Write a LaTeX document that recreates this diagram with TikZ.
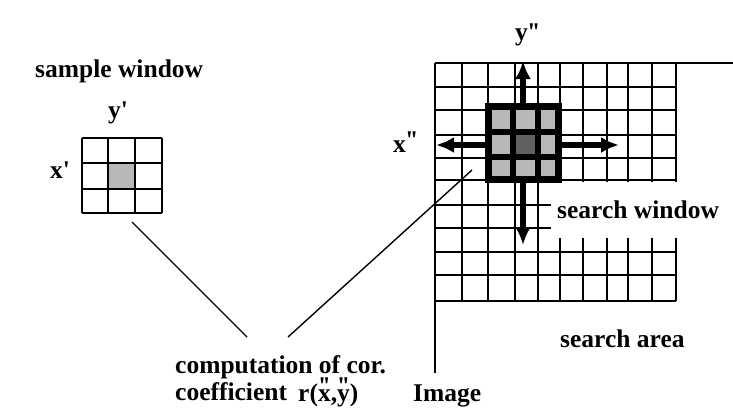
\documentclass[tikz,border=0pt]{standalone}
\usepackage{fontspec}
\setmainfont{Liberation Serif}[Ligatures=TeXOff]
\usetikzlibrary{arrows.meta}
\begin{document}
\begin{tikzpicture}[x=1pt,y=-1pt,
  lbl/.style={font=\bfseries\fontsize{25.5}{28}\selectfont, inner sep=0pt, anchor=base west},
  gridline/.style={line width=2.7pt},
  link/.style={line width=1.4pt},
  bigarrow/.style={line width=5.5pt, -{Latex[length=18pt,width=16pt]}},
  winline/.style={line width=7pt},
  lightcell/.style={fill=black!28},
  darkcell/.style={fill=black!62}
]
\useasboundingbox (0,0) rectangle (733,410);

% ---- search area grid (image) ----
\foreach \x in {435,462,488,515,538,560,583,607,628,652,676}
  \draw[gridline] (\x,63) -- (\x,301);
\foreach \y in {87,110,135,158,180,205,228,252,275,301}
  \draw[gridline] (435,\y) -- (676,\y);
\draw[gridline] (435,63) -- (733,63);
\draw[gridline] (435,63) -- (435,373);

% blank area for the label
\fill[white] (551,181.8) rectangle (733,237.5);

% ---- search window ----
\fill[lightcell] (488.5,106.5) rectangle (512.5,131.5);
\fill[lightcell] (512.5,106.5) rectangle (537.5,131.5);
\fill[lightcell] (537.5,106.5) rectangle (558.5,131.5);
\fill[lightcell] (488.5,131.5) rectangle (512.5,156.5);
\fill[darkcell]  (512.5,131.5) rectangle (537.5,156.5);
\fill[lightcell] (537.5,131.5) rectangle (558.5,156.5);
\fill[lightcell] (488.5,156.5) rectangle (512.5,179.5);
\fill[lightcell] (512.5,156.5) rectangle (537.5,179.5);
\fill[lightcell] (537.5,156.5) rectangle (558.5,179.5);
\draw[winline] (488.5,106.5) rectangle (558.5,179.5);
\draw[line width=6pt] (512.5,106.5) -- (512.5,179.5);
\draw[line width=6pt] (537.5,106.5) -- (537.5,179.5);
\draw[line width=6pt] (488.5,131.5) -- (558.5,131.5);
\draw[line width=6pt] (488.5,156.5) -- (558.5,156.5);

% ---- arrows ----
\coordinate (wt) at (523,103);
\coordinate (wb) at (523,183);
\coordinate (wl) at (485,145);
\coordinate (wr) at (562,145);
\coordinate (tu) at (523,61);
\coordinate (td) at (523,245);
\coordinate (tl) at (436,145);
\coordinate (tr) at (619,145);
\draw[bigarrow] (wt) -- (tu);
\draw[bigarrow] (wb) -- (td);
\draw[bigarrow] (wl) -- (tl);
\draw[bigarrow] (wr) -- (tr);

% ---- sample window ----
\fill[lightcell] (108,163) rectangle (135,189);
\foreach \x in {82,108,135,162}
  \draw[gridline] (\x,138) -- (\x,213);
\foreach \y in {138,163,189,213}
  \draw[gridline] (82,\y) -- (162,\y);

% ---- labels ----
\node[lbl] (sample) at (35,77) {sample window};
\node[lbl] (yp) at (108,118) {y'};
\node[lbl] (xp) at (50,178) {x'};
\node[lbl] (ypp) at (515,40) {y'\kern-2.5pt'};
\node[lbl] (xpp) at (393,152) {x\raisebox{4pt}{'\kern-2.5pt'}};
\node[lbl] (swin) at (557,218) {search window};
\node[lbl] (sarea) at (560,347) {search area};
\node[lbl] (comp) at (175,373) {computation of cor.};
\node[lbl] (coef) at (175,400) {coefficient};
\node[lbl] (rxy) at (298,401) {r(x\llap{\raisebox{6.5pt}{'\kern-2.5pt'}\kern0.5pt},y\llap{\raisebox{6.5pt}{'\kern-2.5pt'}\kern0.5pt})};
\node[lbl] (img) at (413,401) {Image};

% ---- connectors ----
\coordinate (sampleend) at (132,222);
\coordinate (gridend) at (472,170);
\coordinate (c1) at (247,337);
\coordinate (c2) at (288,337);
\draw[link] (sampleend) -- (c1);
\draw[link] (gridend) -- (c2);
\end{tikzpicture}
\end{document}
